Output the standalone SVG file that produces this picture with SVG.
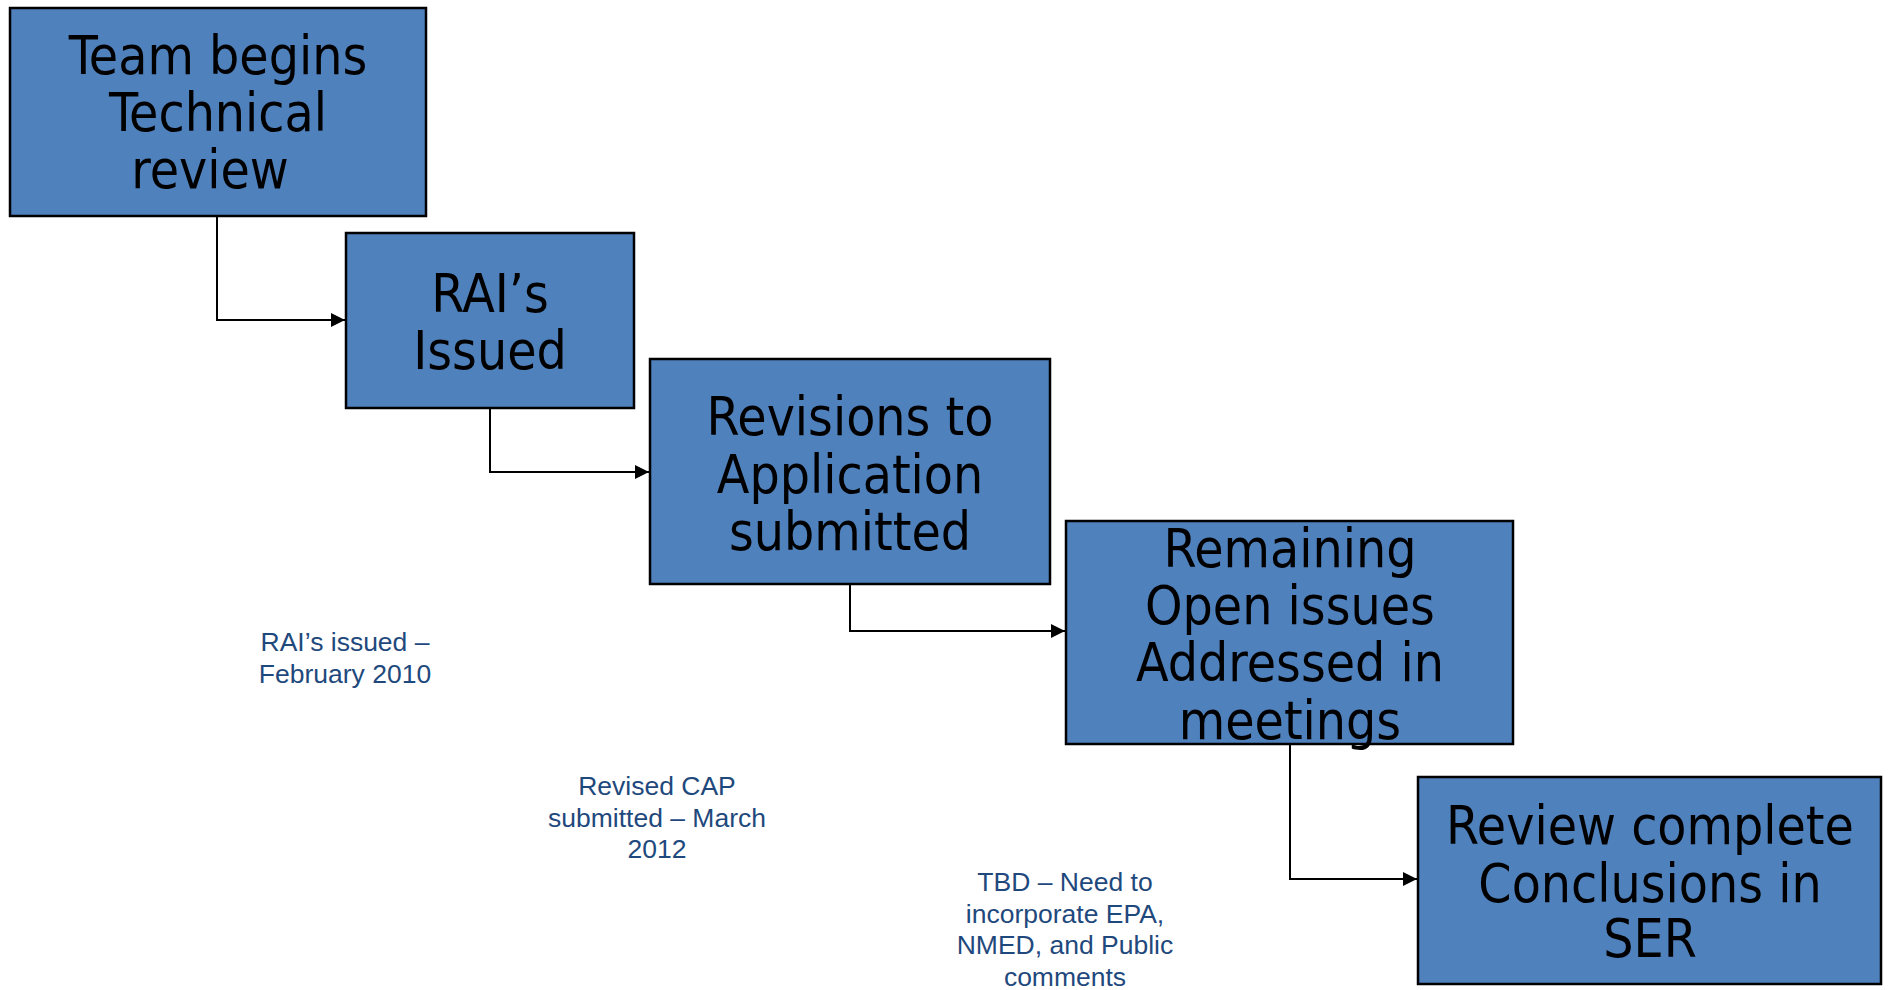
<svg xmlns="http://www.w3.org/2000/svg" width="1891" height="990" viewBox="0 0 1891 990">
<style>
.box{fill:#4F81BD;stroke:#000;stroke-width:2.5}
.lbl{font-family:"DejaVu Sans Condensed","DejaVu Sans",sans-serif;font-size:53px;fill:#000;text-anchor:middle}
.note{font-family:"Liberation Sans",Arial,sans-serif;font-size:26.5px;fill:#1F497D;text-anchor:middle}
.conn{fill:none;stroke:#000;stroke-width:2}
</style>
<defs>
<marker id="arr" viewBox="0 0 10 10" refX="10" refY="5" markerWidth="7" markerHeight="7" orient="auto" markerUnits="strokeWidth">
<path d="M0,0 L10,5 L0,10 z" fill="#000"/>
</marker>
</defs>
<rect width="1891" height="990" fill="#fff"/>
<g id="connectors">
<path class="conn" d="M217,216 V320 H345" marker-end="url(#arr)"/>
<path class="conn" d="M490,408 V472 H649" marker-end="url(#arr)"/>
<path class="conn" d="M850,584 V631 H1065" marker-end="url(#arr)"/>
<path class="conn" d="M1290,744 V879 H1417" marker-end="url(#arr)"/>
</g>
<g id="n1">
<rect class="box" x="10" y="8" width="416" height="208"/>
<text class="lbl" x="218" y="74">Team begins</text>
<text class="lbl" x="218" y="131">Technical</text>
<text class="lbl" x="210" y="188">review</text>
</g>
<g id="n2">
<rect class="box" x="346" y="233" width="288" height="175"/>
<text class="lbl" x="490" y="312">RAI’s</text>
<text class="lbl" x="490" y="369">Issued</text>
</g>
<g id="n3">
<rect class="box" x="650" y="359" width="400" height="225"/>
<text class="lbl" x="850" y="435">Revisions to</text>
<text class="lbl" x="850" y="493">Application</text>
<text class="lbl" x="850" y="550">submitted</text>
</g>
<g id="n4">
<rect class="box" x="1066" y="521" width="447" height="223"/>
<text class="lbl" x="1290" y="567">Remaining</text>
<text class="lbl" x="1290" y="624">Open issues</text>
<text class="lbl" x="1290" y="681">Addressed in</text>
<text class="lbl" x="1290" y="739">meetings</text>
</g>
<g id="n5">
<rect class="box" x="1418" y="777" width="463" height="207"/>
<text class="lbl" x="1650" y="844">Review complete</text>
<text class="lbl" x="1650" y="902">Conclusions in</text>
<text class="lbl" x="1650" y="957">SER</text>
</g>
<g id="notes">
<text class="note" x="345" y="651">RAI’s issued –</text>
<text class="note" x="345" y="683">February 2010</text>
<text class="note" x="657" y="795">Revised CAP</text>
<text class="note" x="657" y="827">submitted – March</text>
<text class="note" x="657" y="858">2012</text>
<text class="note" x="1065" y="891">TBD – Need to</text>
<text class="note" x="1065" y="923">incorporate EPA,</text>
<text class="note" x="1065" y="954">NMED, and Public</text>
<text class="note" x="1065" y="986">comments</text>
</g>
</svg>
